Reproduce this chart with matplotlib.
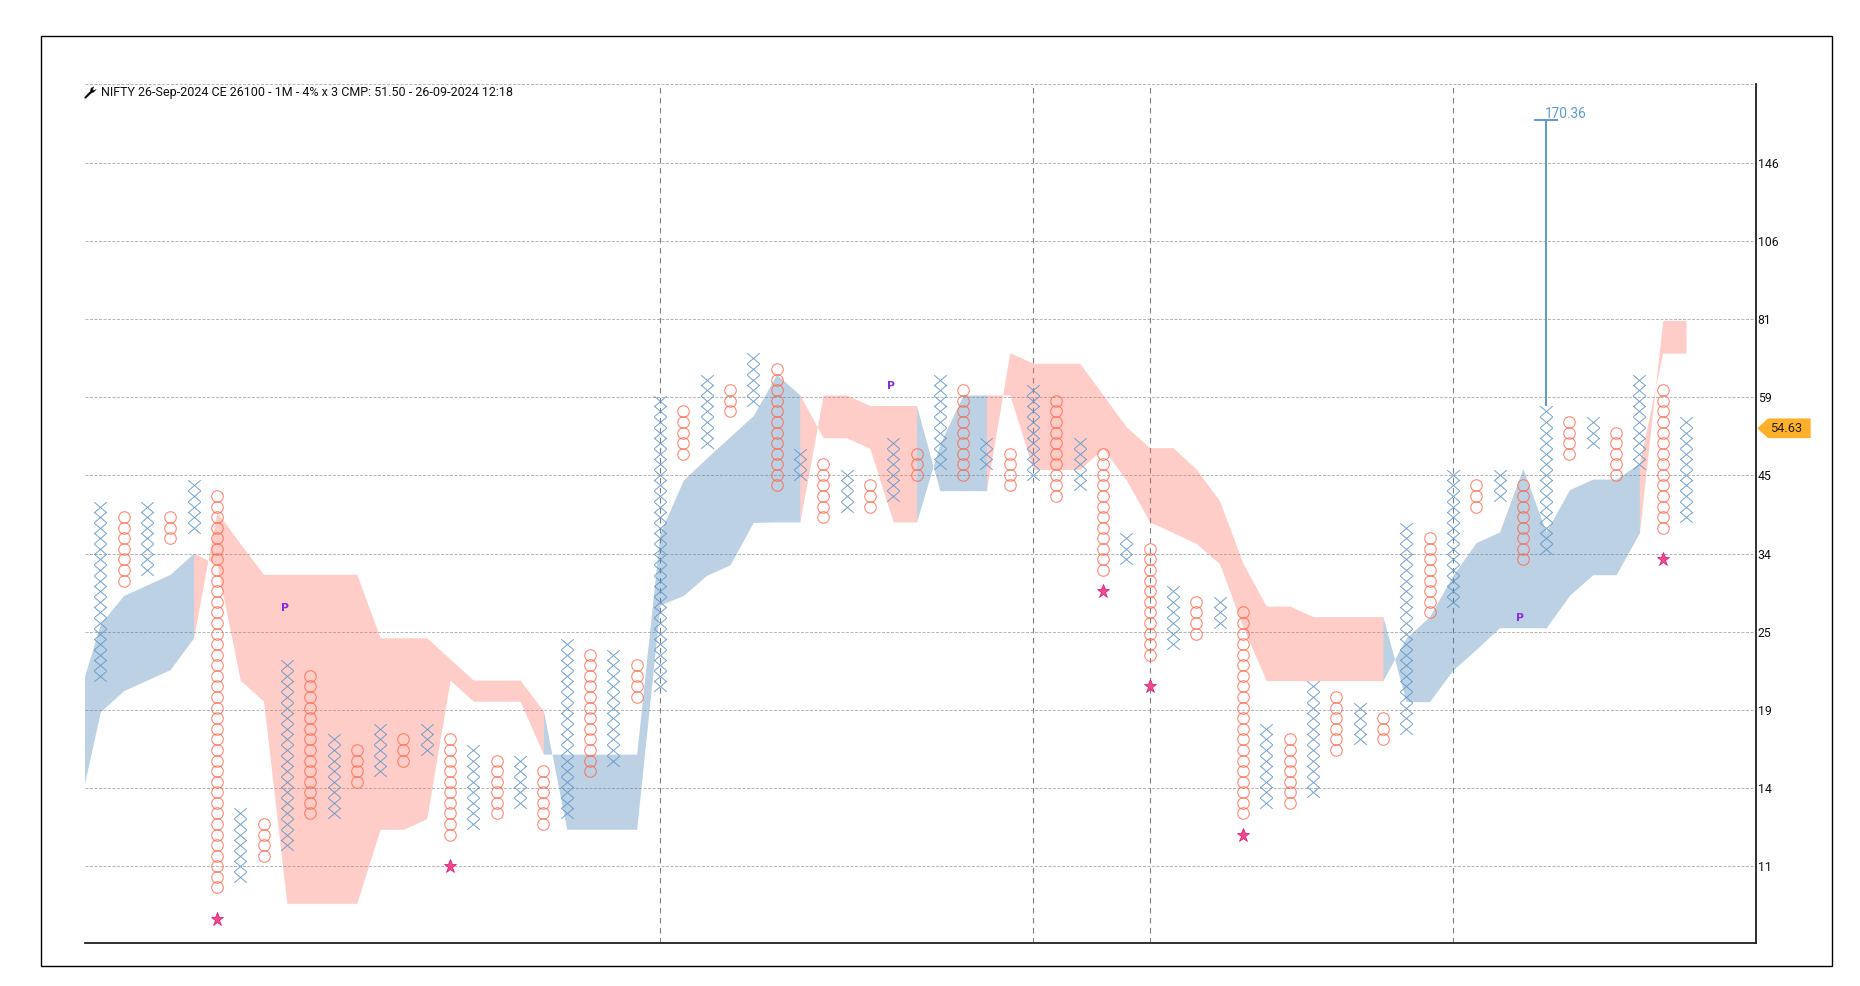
import matplotlib
matplotlib.use("Agg")
import matplotlib.pyplot as plt
from matplotlib.path import Path
from matplotlib.patches import Polygon, Rectangle

# ---- data (rows are point-and-figure box numbers, 4% per box) ----
col_low = [18, 27, 28, 31, 32, -2, -1, 1, 2, 5, 5, 8, 9, 10, 11, 3, 4, 5, 6, 4, 5, 9, 10, 16,
           17, 39, 40, 43, 44, 36, 37, 33, 34, 34, 35, 37, 38, 37, 38, 36, 37, 35, 36, 28, 29,
           20, 21, 22, 23, 5, 6, 6, 7, 11, 12, 12, 13, 24, 25, 34, 35, 29, 30, 39, 40, 37, 38, 32, 33]
col_high = [34, 33, 34, 33, 36, 35, 5, 4, 19, 18, 12, 11, 13, 12, 13, 12, 11, 10, 10, 9, 21, 20, 20, 19,
            44, 43, 46, 45, 48, 47, 39, 38, 37, 36, 40, 39, 46, 45, 40, 39, 45, 44, 40, 39, 31,
            30, 26, 25, 25, 24, 13, 12, 17, 16, 15, 14, 32, 31, 37, 36, 37, 36, 43, 42, 42, 41, 46, 45, 42]
col_kind = "XO" * 34 + "X"

cloud_x = list(range(-1, 69))
line_a = [15.6, 22.9, 25.6, 26.6, 27.6, 29.6, 28.5, 17.6, 15.6, -3.5, -3.5, -3.5, -3.5, 3.5, 3.5, 4.5,
          17.6, 15.6, 15.6, 15.6, 10.6, 10.6, 10.6, 10.6, 10.6, 31.5, 36.5, 38.6, 40.6, 42.6, 46.5, 44.55,
          40.5, 40.5, 39.5, 32.55, 32.55, 39.9, 44.55, 44.55, 44.55, 37.5, 37.5, 37.5, 39.5, 36.5, 32.55,
          31.55, 30.5, 28.58, 22.6, 17.55, 17.55, 17.55, 17.55, 17.55, 17.55, 21.6, 23.6, 27.5, 30.6, 31.6,
          37.6, 31.6, 35.6, 36.6, 36.6, 38.1, 48.5, 48.5]
line_b = [4.6, 14.6, 16.6, 17.6, 18.6, 21.6, 33.5, 30.5, 27.6, 27.6, 27.6, 27.6, 27.6, 21.6, 21.6, 21.6,
          19.6, 17.6, 17.6, 17.6, 14.7, 3.5, 3.5, 3.5, 3.5, 24.7, 25.6, 27.5, 28.5, 32.5, 32.55, 32.55,
          44.55, 44.55, 43.55, 43.55, 43.55, 35.5, 35.5, 35.5, 48.55, 47.55, 47.55, 47.55, 44.55, 41.53,
          39.57, 39.57, 37.53, 34.53, 28.64, 24.6, 24.6, 23.6, 23.6, 23.6, 23.6, 15.56, 15.56, 18.55, 20.5,
          22.55, 22.55, 22.55, 25.6, 27.56, 27.56, 31.53, 51.6, 51.6]

star_cols = [5, 15, 43, 45, 49, 67]
star_rows = [-5, 0, 26, 17, 3, 29]
p_cols = [7.93, 33.9, 60.9]
p_rows = [24.4, 45.4, 23.5]
session_cols = [24, 40, 45, 58]
tick_labels = ["11", "14", "19", "25", "34", "45", "59", "81", "106", "146", ""]
grid_step = 7.39
target_col, target_low, target_high, target_text = 62, 43.5, 70.5, "170.36"
cmp_row, cmp_text = 41.4, "54.63"
title = "NIFTY 26-Sep-2024 CE 26100 - 1M - 4% x 3 CMP: 51.50 - 26-09-2024 12:18"

# ---- figure ----
W, H = 1860, 986
fig = plt.figure(figsize=(W / 100, H / 100), dpi=100, facecolor="white")
L, R, T, B = 84.5, 1756, 84.3, 943
ax = fig.add_axes([L / W, 1 - B / H, (R - L) / W, (B - T) / H])
fig.add_artist(Rectangle((41 / W, 1 - 966 / H), (1832 - 41) / W, (966 - 36) / H, transform=fig.transFigure,
                         fill=False, ec="black", lw=1.0))
col_px, row_px, col0 = 23.32, 10.58, 100.3
ax.set_xlim((L - col0) / col_px, (R - col0) / col_px)
ax.set_ylim((866.3 - B) / row_px, (866.3 - T) / row_px)

FONT = "Roboto"
for s in ("top", "left"):
    ax.spines[s].set_visible(False)
for s in ("right", "bottom"):
    ax.spines[s].set_linewidth(1.3)
    ax.spines[s].set_color("#202020")
ax.set_xticks([])
ticks = [i * grid_step for i in range(len(tick_labels))]
ax.yaxis.tick_right()
ax.set_yticks(ticks, tick_labels, fontsize=8.8, family=FONT, color="#111111")
ax.tick_params(axis="y", length=0, pad=1.2)
ax.grid(False)
for t in ticks:
    ax.axhline(t, color="#b8b8b8", lw=0.72, ls=(0, (3, 1.5)), zorder=1, clip_on=False)
for c in session_cols:
    ax.axvline(c, color="#808080", lw=0.8, ls=(0, (5, 4)), zorder=1)

# cloud: each step takes its colour from the ordering at its right end; runs of one colour share a polygon
steps_up = [line_a[i + 1] >= line_b[i + 1] for i in range(len(cloud_x) - 1)]
start = 0
for i in range(1, len(steps_up) + 1):
    if i == len(steps_up) or steps_up[i] != steps_up[start]:
        up = steps_up[start]
        ax.fill_between(cloud_x[start:i + 1], line_a[start:i + 1], line_b[start:i + 1],
                        color="#4682B4" if up else "#FF6455", alpha=0.36 if up else 0.32, lw=0, zorder=2)
        start = i

# columns
x_mark = Path([(-1, -.85), (1, .85), (-1, .85), (1, -.85)],
              [Path.MOVETO, Path.LINETO, Path.MOVETO, Path.LINETO])
for n, (lo, hi, k) in enumerate(zip(col_low, col_high, col_kind)):
    rows = list(range(lo, hi + 1))
    if k == "X":
        ax.plot([n] * len(rows), rows, ls="", marker=x_mark, ms=9.0, mew=0.68, mec="#5f97cc",
                mfc="none", alpha=0.9, zorder=3)
    else:
        ax.plot([n] * len(rows), rows, ls="", marker="o", ms=8.3, mew=0.8, mec="#ff6347",
                mfc="none", alpha=0.75, zorder=3)

ax.plot(star_cols, star_rows, ls="", marker="*", ms=9.8, mfc="#ee4a92", mec="#e0106f", mew=0.5, zorder=4)
for c, r in zip(p_cols, p_rows):
    ax.text(c, r, "P", color="#8a2be2", fontsize=7.8, fontweight="bold", ha="center", va="center",
            family="DejaVu Sans", zorder=4)

# target stem
ax.plot([target_col, target_col], [target_low, target_high], color="#6699cc", lw=1.5, zorder=4, solid_capstyle="butt")
ax.plot([target_col - .5, target_col + .5], [target_high, target_high], color="#6699cc", lw=1.5, zorder=4,
        solid_capstyle="butt")
ax.annotate(target_text, (target_col, target_high), xytext=(-1, -0.4), textcoords="offset points", ha="left",
            va="bottom", fontsize=9.8, family=FONT, color="#5b9bd5", zorder=5)

# last price badge
tr = ax.get_yaxis_transform()
axw = R - L
h = 9.85 / row_px
ax.add_patch(Polygon([(1 + 1.3 / axw, cmp_row), (1 + 12 / axw, cmp_row + h), (1 + 54.7 / axw, cmp_row + h),
                      (1 + 54.7 / axw, cmp_row - h), (1 + 12 / axw, cmp_row - h)], closed=True, transform=tr,
                     fc="#ffb02a", ec="none", clip_on=False, zorder=5))
ax.text(1 + 30 / axw, cmp_row, cmp_text, transform=tr, ha="center", va="center", fontsize=9.2, family=FONT,
        color="#222200", zorder=6)

# title with wrench icon
ax.text((101.2 - L) / axw, (B - 92.7) / (B - T), title, transform=ax.transAxes, fontsize=9.03, family=FONT,
        color="#111111", ha="left", va="center", zorder=6)
wrench = Path([(-1, -1), (-.8, -1), (.2, -.05), (.55, .05), (1, .55), (.6, .35), (.35, .55), (.6, 1), (.1, .75),
               (-.05, .2), (-1, -.8), (-1, -1)], closed=True)
ax.plot([(90 - L) / axw], [(B - 91.5) / (B - T)], marker=wrench, ms=8.4, mfc="black", mec="black", mew=0.2,
        transform=ax.transAxes, clip_on=False, zorder=6)

fig.savefig("out.png", dpi=100)
